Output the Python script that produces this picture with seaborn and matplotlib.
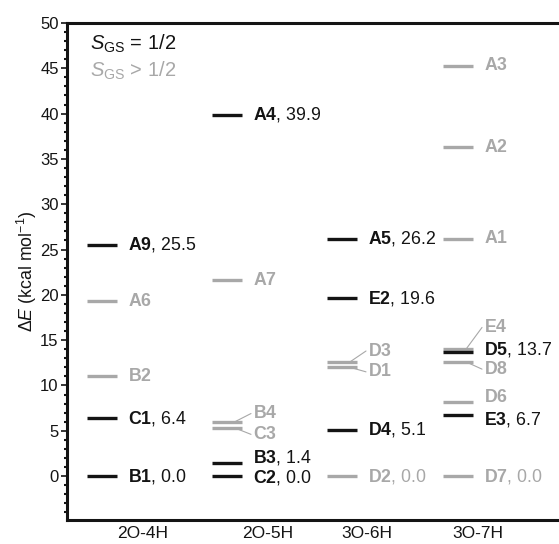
import matplotlib
matplotlib.use("Agg")
import matplotlib.pyplot as plt
import seaborn as sns
import pandas as pd
from matplotlib.ticker import MultipleLocator

# ---------------- data ----------------
groups = ["2O-4H", "2O-5H", "3O-6H", "3O-7H"]
names = ["A9", "A6", "B2", "C1", "B1",
         "A4", "A7", "B4", "C3", "B3", "C2",
         "A5", "E2", "D3", "D1", "D4", "D2",
         "A3", "A2", "A1", "E4", "D5", "D8", "D6", "E3", "D7"]
group_of = [0, 0, 0, 0, 0,
            1, 1, 1, 1, 1, 1,
            2, 2, 2, 2, 2, 2,
            3, 3, 3, 3, 3, 3, 3, 3, 3]
energies = [25.5, 19.3, 11.0, 6.4, 0.0,
            39.9, 21.6, 6.0, 5.3, 1.4, 0.0,
            26.2, 19.6, 12.6, 12.0, 5.1, 0.0,
            45.3, 36.3, 26.2, 14.0, 13.7, 12.6, 8.2, 6.7, 0.0]
low_spin = [True, False, False, True, True,
            True, False, False, False, True, True,
            True, True, False, False, True, False,
            False, False, False, False, True, False, False, True, False]
show_value = [True, False, False, True, True,
              True, False, False, False, True, True,
              True, True, False, False, True, True,
              False, False, False, False, True, False, False, True, True]
# text label vertical positions (layout) where labels are shifted
label_y = {"B4": 6.9, "C3": 4.6, "B3": 2.0, "C2": -0.2,
           "D3": 13.8, "D1": 11.5, "E4": 16.4, "D5": 14.0,
           "D8": 11.8, "D6": 8.7, "E3": 6.2}
leaders = ["B4", "C3", "D3", "D1", "E4", "D8"]

# ---------------- layout ----------------
group_start = [0.20, 1.45, 2.60, 3.76]   # left end of level lines (axis units)
line_w = 0.30
text_gap = 0.41
tick_pos = [0.76, 2.01, 3.00, 4.11]

BLACK = "#141414"
GRAY = "#a8a8a8"

sns.set_theme(style="ticks")
plt.rcParams["font.family"] = ["Liberation Sans", "DejaVu Sans"]
plt.rcParams["mathtext.fontset"] = "custom"
plt.rcParams["mathtext.rm"] = "Liberation Sans"
plt.rcParams["mathtext.it"] = "Liberation Sans:italic"
plt.rcParams["mathtext.bf"] = "Liberation Sans:bold"

df = pd.DataFrame({"name": names, "g": group_of, "E": energies,
                   "low": low_spin, "val": show_value})
df["x0"] = [group_start[g] for g in df["g"]]
df["x1"] = df["x0"] + line_w

fig = plt.figure(figsize=(5.59, 5.44), dpi=100)
ax = fig.add_axes([67 / 559, 24 / 544, 1 - 67 / 559, (520 - 23) / 544])

# gray first, black on top
for low in [False, True]:
    sub = df[df["low"] == low]
    ax.hlines(sub["E"], sub["x0"], sub["x1"], colors=BLACK if low else GRAY,
              linewidth=2.4, zorder=3 if low else 2)

fs = 12.8
for _, r in df.iterrows():
    color = BLACK if r["low"] else GRAY
    ty = label_y.get(r["name"], r["E"])
    tx = r["x0"] + text_gap
    s = r"$\mathbf{" + r["name"] + "}$"
    if r["val"]:
        s += ", %.1f" % r["E"]
    ax.text(tx, ty, s, color=color, fontsize=fs, ha="left", va="center", zorder=4)
    if r["name"] in leaders:
        ax.plot([r["x1"] - 0.07, tx - 0.02], [r["E"], ty], color=GRAY,
                linewidth=0.8, zorder=1)

# legend texts
ax.text(0.047, 0.958, r"$S_{\mathrm{GS}}$ = 1/2", transform=ax.transAxes,
        color=BLACK, fontsize=14.5, ha="left", va="center")
ax.text(0.047, 0.903, r"$S_{\mathrm{GS}}$ > 1/2", transform=ax.transAxes,
        color=GRAY, fontsize=14.5, ha="left", va="center")

ax.set_xlim(0, 4.92)
ax.set_ylim(-4.85, 50)
ax.set_xticks(tick_pos)
ax.set_xticklabels(groups, fontsize=12.5)
ax.yaxis.set_minor_locator(MultipleLocator(1))
ax.set_yticks(list(range(0, 51, 5)))
ax.tick_params(axis="y", which="major", length=4, width=1.2, labelsize=12,
               direction="out", color=BLACK, labelcolor=BLACK, pad=2)
ax.tick_params(axis="y", which="minor", length=2, width=1.5, direction="out",
               color=BLACK)
ax.tick_params(axis="x", length=0, pad=4, labelcolor=BLACK)
ax.set_ylabel(r"Δ$E$ (kcal mol$^{-1}$)", fontsize=12.8, color=BLACK, labelpad=1)

for side in ["left", "top", "bottom"]:
    ax.spines[side].set_linewidth(2.2)
    ax.spines[side].set_color(BLACK)
ax.spines["right"].set_visible(False)
ax.grid(False)

fig.savefig("out.png", dpi=100)
